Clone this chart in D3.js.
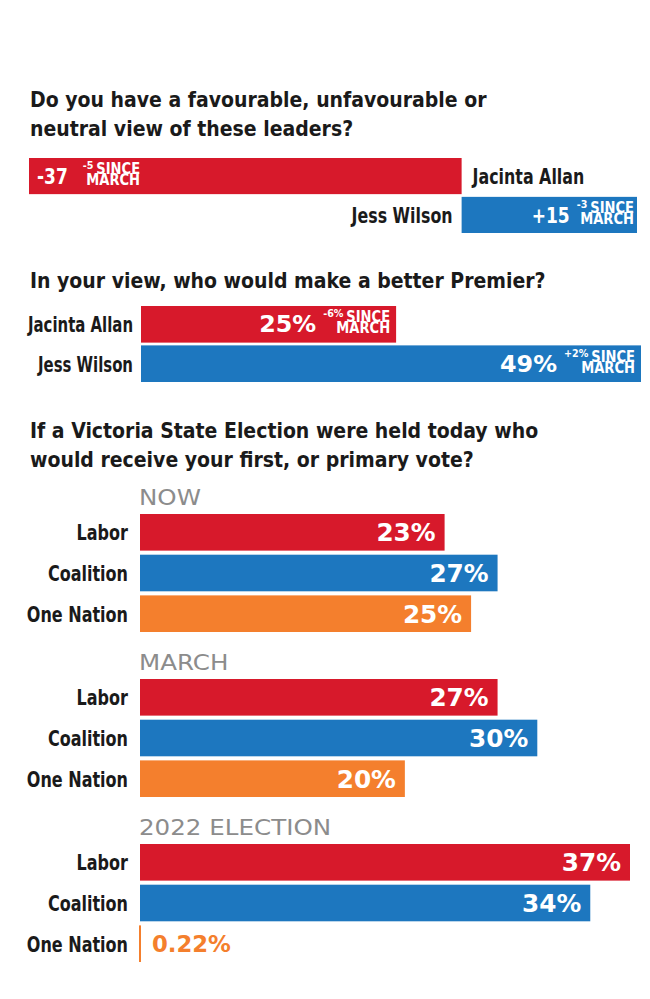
<!DOCTYPE html>
<html lang="en">
<head>
<meta charset="UTF-8">
<title>Victoria poll</title>
<script src="https://d3js.org/d3.v7.min.js"></script>
<style>
  body { margin: 0; background: #fff; }
  svg { font-family: "DejaVu Sans Condensed", "Roboto", sans-serif; }
</style>
</head>
<body>
<script>
// data
const favLeaders = ["Jacinta Allan", "Jess Wilson"];
const favValues = [-37, 15];
const favChange = ["-5", "-3"];

const premLeaders = ["Jacinta Allan", "Jess Wilson"];
const premValues = [25, 49];
const premChange = ["-6%", "+2%"];

const parties = ["Labor", "Coalition", "One Nation"];
const periods = ["NOW", "MARCH", "2022 ELECTION"];
const voteNow = [23, 27, 25];
const voteMarch = [27, 30, 20];
const vote2022 = [37, 34, 0.22];

const RED = "#d7192b", BLUE = "#1d77bf", ORANGE = "#f47f2d", INK = "#1a1a1a", GREY = "#8c8c8c";
const partyColor = d3.scaleOrdinal().domain(parties).range([RED, BLUE, ORANGE]);

const svg = d3.select("body").append("svg")
  .attr("width", 650).attr("height", 999);

// text squeezed/stretched horizontally to get close to the condensed print face
function txt(parent, x, y, str, o) {
  const g = parent.append("g").attr("transform", `translate(${x},${y}) scale(${o.sx || 1},1)`);
  g.append("text")
    .attr("text-anchor", o.anchor || "start")
    .attr("font-size", o.size)
    .attr("font-weight", o.weight || "bold")
    .attr("font-family", o.family || null)
    .attr("fill", o.fill || INK)
    .text(str);
  return g;
}

function title(lines, y) {
  lines.forEach((l, i) => txt(svg, 30, y + i * 29, l, { size: 21 }));
}

// small two-line "x SINCE / MARCH" note, right edge at xEnd; returns its width
function sinceNote(parent, xEnd, mid, change) {
  const g = parent.append("g").attr("transform", `translate(${xEnd},${mid}) scale(0.97,1)`);
  const t = g.append("text").attr("text-anchor", "end").attr("fill", "#fff")
    .attr("font-weight", "bold").attr("font-size", 15).attr("y", -7);
  t.append("tspan").attr("x", 0).attr("font-size", 11).text(change);
  t.append("tspan").attr("dx", 3).attr("dy", 5).text("SINCE");
  t.append("tspan").attr("x", 0).attr("dy", 11).text("MARCH");
  return g.node().getBBox().width * 0.97;
}

// ---- 1. favourability (diverging) ----
title(["Do you have a favourable, unfavourable or", "neutral view of these leaders?"], 107);

const xFav = d3.scaleLinear().domain([-37, 15]).range([29, 637]);
const yFav = d3.scaleBand().domain(favLeaders).range([158, 233]).paddingInner(0.07);

favLeaders.forEach((name, i) => {
  const v = favValues[i];
  const y0 = yFav(name), h = yFav.bandwidth(), mid = y0 + h / 2;
  const x0 = xFav(Math.min(0, v)), x1 = xFav(Math.max(0, v));
  svg.append("rect").attr("x", x0).attr("y", y0).attr("width", x1 - x0).attr("height", h)
    .attr("fill", v < 0 ? RED : BLUE);
  const label = (v > 0 ? "+" : "") + v;
  if (v < 0) {
    const t = txt(svg, x0 + 8, mid + 8, label, { size: 22, fill: "#fff", sx: 0.86 });
    const w = t.node().getBBox().width * 0.86;
    const tmp = svg.append("g");
    const nw = sinceNote(tmp, 0, mid, favChange[i]);
    tmp.remove();
    sinceNote(svg, x0 + 8 + w + 15 + nw, mid, favChange[i]);
    txt(svg, xFav(0) + 11, mid + 8, name, { size: 21, sx: 0.84 });
  } else {
    const nw = sinceNote(svg, x1 - 3, mid, favChange[i]);
    txt(svg, x1 - 3 - nw - 7, mid + 8, label, { size: 22, fill: "#fff", anchor: "end", sx: 0.86 });
    txt(svg, xFav(0) - 9, mid + 8, name, { size: 21, anchor: "end", sx: 0.84 });
  }
});

// ---- 2. better premier ----
title(["In your view, who would make a better Premier?"], 288);

const xPrem = d3.scaleLinear().domain([0, 49]).range([141, 641]);
const yPrem = d3.scaleBand().domain(premLeaders).range([306, 382]).paddingInner(0.07);

premLeaders.forEach((name, i) => {
  const y0 = yPrem(name), h = yPrem.bandwidth(), mid = y0 + h / 2;
  const x1 = xPrem(premValues[i]);
  svg.append("rect").attr("x", xPrem(0)).attr("y", y0).attr("width", x1 - xPrem(0)).attr("height", h)
    .attr("fill", i === 0 ? RED : BLUE);
  const nw = sinceNote(svg, x1 - 6, mid, premChange[i]);
  txt(svg, x1 - 6 - nw - 7, mid + 8, premValues[i] + "%", { size: 23, fill: "#fff", anchor: "end", sx: 1.15 });
  txt(svg, xPrem(0) - 8, mid + 8, name, { size: 21, anchor: "end", sx: 0.79 });
});

// ---- 3. primary vote ----
title(["If a Victoria State Election were held today who", "would receive your first, or primary vote?"], 438);

const xVote = d3.scaleLinear().domain([0, 37]).range([140, 630]);
const votes = [voteNow, voteMarch, vote2022];
const groupTop = d3.scaleBand().domain(periods).range([514, 1009]);

periods.forEach((p, gi) => {
  const top = groupTop(p);
  txt(svg, xVote(0) - 1, top - 9, p, { size: 21, weight: "normal", fill: GREY, family: "DejaVu Sans", sx: 1.17 });
  const y = d3.scaleBand().domain(parties).range([top, top + 118]).paddingInner(0.1);
  parties.forEach((party, i) => {
    const v = votes[gi][i], y0 = y(party), h = y.bandwidth(), mid = y0 + h / 2;
    const x1 = xVote(v);
    txt(svg, xVote(0) - 12, mid + 8, party, { size: 22, anchor: "end", sx: 0.81 });
    if (v < 1) {
      svg.append("rect").attr("x", xVote(0) - 1).attr("y", y0).attr("width", 2).attr("height", h)
        .attr("fill", partyColor(party));
      txt(svg, xVote(0) + 12, mid + 8, v + "%", { size: 23, fill: partyColor(party), sx: 1.1 });
    } else {
      svg.append("rect").attr("x", xVote(0)).attr("y", y0).attr("width", x1 - xVote(0)).attr("height", h)
        .attr("fill", partyColor(party));
      txt(svg, x1 - 9, mid + 9, v + "%", { size: 25, fill: "#fff", anchor: "end", sx: 1.1 });
    }
  });
});
</script>
</body>
</html>
